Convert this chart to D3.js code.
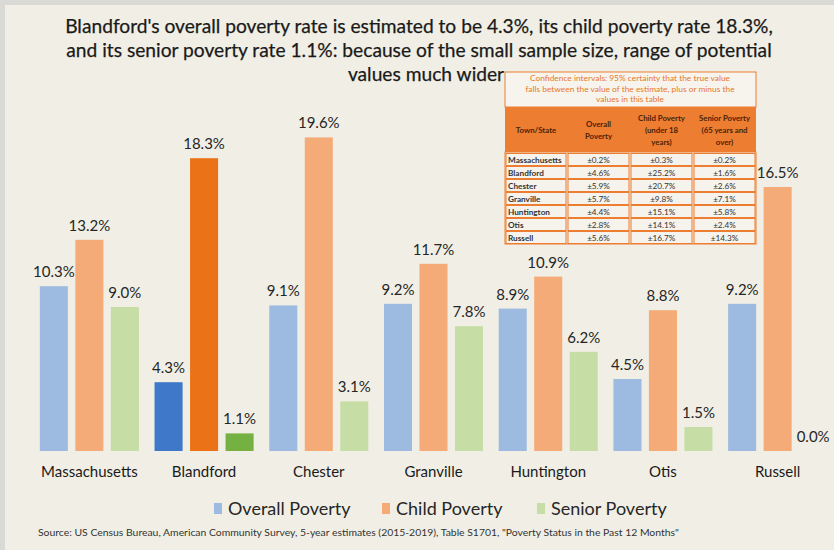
<!DOCTYPE html>
<html><head><meta charset="utf-8">
<script src="https://cdn.jsdelivr.net/npm/d3@7/dist/d3.min.js"></script>
<style>
html,body{margin:0;padding:0;background:#d9d9d6;}
svg{display:block;}
</style></head>
<body><svg id="chart" width="834" height="550"></svg>
<script>
const titleLines = [
  "Blandford's overall poverty rate is estimated to be 4.3%, its child poverty rate 18.3%,",
  "and its senior poverty rate 1.1%: because of the small sample size, range of potential",
  "values much wider"
];
const categories = ["Massachusetts","Blandford","Chester","Granville","Huntington","Otis","Russell"];
const series = ["Overall Poverty","Child Poverty","Senior Poverty"];
const overallPoverty = [10.3, 4.3, 9.1, 9.2, 8.9, 4.5, 9.2];
const childPoverty   = [13.2, 18.3, 19.6, 11.7, 10.9, 8.8, 16.5];
const seniorPoverty  = [9.0, 1.1, 3.1, 7.8, 6.2, 1.5, 0.0];
const highlighted = "Blandford";

const tableCaption = [
  "Confidence intervals: 95% certainty that the true value",
  "falls between the value of the estimate, plus or minus the",
  "values in this table"
];
const tableHeaders = [["Town/State"],["Overall","Poverty"],["Child Poverty","(under 18","years)"],["Senior Poverty","(65 years and","over)"]];
const tableTowns = ["Massachusetts","Blandford","Chester","Granville","Huntington","Otis","Russell"];
const moeOverall = ["±0.2%","±4.6%","±5.9%","±5.7%","±4.4%","±2.8%","±5.6%"];
const moeChild   = ["±0.3%","±25.2%","±20.7%","±9.8%","±15.1%","±14.1%","±16.7%"];
const moeSenior  = ["±0.2%","±1.6%","±2.6%","±7.1%","±5.8%","±2.4%","±14.3%"];

const sourceText = 'Source: US Census Bureau, American Community Survey, 5-year estimates (2015-2019), Table S1701, "Poverty Status in the Past 12 Months"';

const lightColors = ["#9dbbe1","#f4ab78","#c6dda6"];
const darkColors  = ["#3f78c8","#ec7218","#75b042"];
const FONT = "Lato, 'Open Sans', sans-serif";

const svg = d3.select("#chart");
svg.append("rect").attr("x",5).attr("y",5).attr("width",829).attr("height",545).attr("fill","#f1efe5");

// title
svg.append("g").selectAll("text").data(titleLines).join("text")
  .attr("x", (d,i)=> i===2 ? 426 : 419)
  .attr("y", (d,i)=> 33 + i*24)
  .attr("text-anchor","middle")
  .attr("font-family",FONT).attr("font-size",19.2).attr("fill","#1a1a1a")
  .attr("stroke","#1a1a1a").attr("stroke-width",0.25)
  .text(d=>d);

const data = categories.map((c,i)=>({cat:c, values:[overallPoverty[i], childPoverty[i], seniorPoverty[i]]}));

const x0 = d3.scaleBand().domain(categories).range([32,835]).paddingInner(0.1366).paddingOuter(0.0683);
const x1 = d3.scaleBand().domain(series).range([0, x0.bandwidth()]).paddingInner(0.21).paddingOuter(0);
const y = d3.scaleLinear().domain([0,20]).range([451,131]);

const groups = svg.append("g").selectAll("g").data(data).join("g")
  .attr("transform", d=>`translate(${x0(d.cat)},0)`);

groups.selectAll("rect").data(d=>d.values.map((v,j)=>({v, s:series[j], j, cat:d.cat}))).join("rect")
  .attr("x", d=>x1(d.s)).attr("width", x1.bandwidth())
  .attr("y", d=>y(d.v)).attr("height", d=>y(0)-y(d.v))
  .attr("fill", d=> d.cat===highlighted ? darkColors[d.j] : lightColors[d.j]);

groups.selectAll("text.val").data(d=>d.values.map((v,j)=>({v, s:series[j], j}))).join("text")
  .attr("class","val")
  .attr("x", d=>x1(d.s)+x1.bandwidth()/2)
  .attr("y", d=>y(d.v)-9)
  .attr("text-anchor","middle")
  .attr("font-family",FONT).attr("font-size",15).attr("fill","#262626")
  .text(d=>d.v.toFixed(1)+"%");

// category axis labels
const xAxis = d3.axisBottom(x0).tickSize(0).tickPadding(8);
const ax = svg.append("g").attr("transform","translate(0,458)").call(xAxis);
ax.select(".domain").remove();
ax.selectAll("text").attr("font-family",FONT).attr("font-size",15).attr("fill","#1a1a1a");

// legend
const legendX = [214, 382, 537];
const leg = svg.append("g").selectAll("g").data(series).join("g")
  .attr("transform",(d,i)=>`translate(${legendX[i]},503)`);
leg.append("rect").attr("width",8).attr("height",11).attr("fill",(d,i)=>lightColors[i]);
leg.append("text").attr("x",14).attr("y",12).attr("font-family",FONT).attr("font-size",18).attr("fill","#262626").text(d=>d);

// source
svg.append("text").attr("x",38).attr("y",536).attr("font-family",FONT).attr("font-size",10.4).attr("fill","#333").text(sourceText);

// table
const tbl = svg.append("g");
const colX = [505, 567, 630, 693, 756];
const tOrange = "#ed7d31";
tbl.append("rect").attr("x",505).attr("y",72).attr("width",251).attr("height",35)
  .attr("fill","#f7f4ee").attr("stroke",tOrange).attr("stroke-width",1);
tbl.selectAll("text.cap").data(tableCaption).join("text").attr("class","cap")
  .attr("x",630).attr("y",(d,i)=>81+i*10.5).attr("text-anchor","middle")
  .attr("font-family",FONT).attr("font-size",8.4).attr("fill","#e8772a").text(d=>d);
tbl.append("rect").attr("x",505).attr("y",107).attr("width",251).attr("height",45).attr("fill",tOrange);
tableHeaders.forEach((lines,c)=>{
  const cx = (colX[c]+colX[c+1])/2;
  const n = lines.length;
  tbl.selectAll(null).data(lines).join("text")
    .attr("x",cx).attr("y",(d,i)=>130 - (n-1)*6 + i*12 + 3)
    .attr("text-anchor","middle").attr("font-family",FONT).attr("font-size",7.8).attr("font-weight","bold")
    .attr("fill","#4a2308").text(d=>d);
});
const rowY = d3.scaleBand().domain(tableTowns).range([153,244]);
const rowsData = tableTowns.map((t,i)=>[t, moeOverall[i], moeChild[i], moeSenior[i]]);
rowsData.forEach((row,r)=>{
  row.forEach((cell,c)=>{
    tbl.append("rect").attr("x",colX[c]+1).attr("y",rowY(row[0])+0.5)
      .attr("width",colX[c+1]-colX[c]-2).attr("height",rowY.bandwidth()-1)
      .attr("fill","#f6f3ec").attr("stroke",tOrange).attr("stroke-width",1);
    tbl.append("text")
      .attr("x", c===0 ? colX[c]+3 : (colX[c]+colX[c+1])/2)
      .attr("y", rowY(row[0])+rowY.bandwidth()/2+3)
      .attr("text-anchor", c===0 ? "start" : "middle")
      .attr("font-family",FONT).attr("font-size",8.2).attr("font-weight", c===0?"bold":"normal")
      .attr("fill","#333").text(cell);
  });
});
tbl.append("rect").attr("x",505).attr("y",152).attr("width",251).attr("height",92)
  .attr("fill","none").attr("stroke",tOrange).attr("stroke-width",1);
</script></body></html>
